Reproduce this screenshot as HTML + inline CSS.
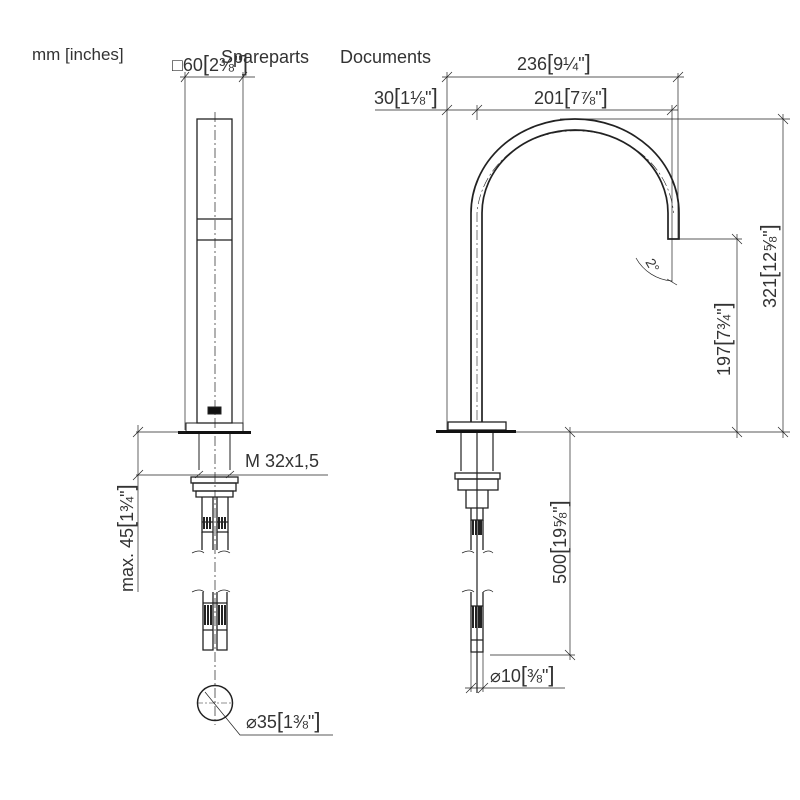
<!DOCTYPE html>
<html><head><meta charset="utf-8"><style>
body{margin:0;background:#fff;width:800px;height:800px;overflow:hidden}
svg{display:block}
text{font-family:"Liberation Sans",sans-serif;fill:#333}
</style></head><body>
<svg width="800" height="800" viewBox="0 0 800 800" xmlns="http://www.w3.org/2000/svg">
<g fill="none" stroke="#222" stroke-width="1">
<!-- LEFT VIEW -->
<line x1="185" y1="72" x2="185" y2="430" stroke-width="0.7"/>
<line x1="243" y1="72" x2="243" y2="430" stroke-width="0.7"/>
<line x1="180" y1="77" x2="255" y2="77" stroke-width="0.7"/>
<line x1="181" y1="82" x2="189" y2="72" stroke-width="0.7"/>
<line x1="239" y1="82" x2="247" y2="72" stroke-width="0.7"/>
<rect x="197" y="119" width="35" height="304" stroke-width="1.3"/>
<line x1="197" y1="219" x2="232" y2="219" stroke-width="1.3"/>
<line x1="197" y1="240" x2="232" y2="240" stroke-width="1.3"/>
<line x1="215" y1="112" x2="215" y2="725" stroke-dasharray="10,3,2,3" stroke-width="0.7"/>
<rect x="208" y="407" width="13" height="7" fill="#111"/>
<rect x="186" y="423" width="57" height="9"/>
<line x1="178" y1="432.5" x2="251" y2="432.5" stroke-width="3" stroke="#111"/>
<line x1="199" y1="434" x2="199" y2="470"/><line x1="230" y1="434" x2="230" y2="470"/>
<line x1="136" y1="432" x2="186" y2="432" stroke-width="0.7"/>
<line x1="136" y1="475" x2="328" y2="475" stroke-width="0.7"/>
<line x1="138" y1="425" x2="138" y2="592" stroke-width="0.7"/>
<line x1="133" y1="437" x2="143" y2="427" stroke-width="0.7"/>
<line x1="133" y1="480" x2="143" y2="470" stroke-width="0.7"/>
<line x1="195" y1="478" x2="203" y2="471" stroke-width="0.7"/>
<line x1="226" y1="478" x2="234" y2="471" stroke-width="0.7"/>
<rect x="191" y="477" width="47" height="6" stroke-width="1.3"/>
<rect x="193" y="483" width="43" height="8" stroke-width="1.3"/>
<path d="M196 491 h37 v6 h-37z" stroke-width="1.3"/>
<path d="M202 497 v35 h11 v-35 M217 497 v35 h11 v-35" stroke-width="1.3"/>
<path d="M202 522 h11 M217 522 h11 M202 532 v18 M213 532 v18 M217 532 v18 M228 532 v18" stroke-width="1.3"/>
<path d="M204 517 v12 M207 517 v12 M210 517 v12 M219 517 v12 M222 517 v12 M225 517 v12" stroke-width="2"/>
<path d="M192 553 q8 -4 12 0 M218 553 q6 -4 12 0" stroke-width="0.7"/>
<path d="M192 592 q8 -4 12 0 M218 592 q6 -4 12 0" stroke-width="0.7"/>
<path d="M203 592 v58 h10 v-58 M217 592 v58 h10 v-58 M203 603 h24 M203 630 h10 M217 630 h10" stroke-width="1.3"/>
<path d="M205 605 v20 M208 605 v20 M211 605 v20 M219 605 v20 M222 605 v20 M225 605 v20" stroke-width="2"/>
<circle cx="215" cy="703" r="17.5" stroke-width="1.5"/>
<line x1="197" y1="703" x2="233" y2="703" stroke-dasharray="6,2,2,2" stroke-width="0.6"/>
<path d="M205 692 L240 735 H333" stroke-width="0.7"/>
<!-- RIGHT VIEW -->
<path d="M471 422 V213 A104 94 0 0 1 679 213 V239 H668 V213 A93 83 0 0 0 482 213 V422" stroke-width="1.7"/>
<path d="M477 420 V213 A98.5 88.5 0 0 1 673.5 213" stroke-dasharray="10,3,2,3" stroke-width="0.6"/>
<rect x="448" y="422" width="58" height="8" stroke-width="1.3"/>
<line x1="436" y1="431.5" x2="516" y2="431.5" stroke-width="3" stroke="#111"/>
<path d="M461 433 v38 M493 433 v38 M477 433 v260" stroke-width="1.2"/>
<rect x="455" y="473" width="45" height="6" stroke-width="1.3"/><rect x="458" y="479" width="40" height="11" stroke-width="1.3"/>
<path d="M466 490 v18 h22 v-18 M471 508 v12 h12 v-12" stroke-width="1.3"/>
<path d="M471 520 v30 M483 520 v30" stroke-width="1.3"/>
<path d="M473 520 v15 M476 520 v15 M479 520 v15 M481 520 v15" stroke-width="2"/>
<path d="M462 553 q8 -4 12 0 M483 553 q6 -4 10 0" stroke-width="0.7"/>
<path d="M462 592 q8 -4 12 0 M483 592 q6 -4 10 0" stroke-width="0.7"/>
<path d="M471 592 v60 h12 v-60 M471 606 h12 M471 640 h12" stroke-width="1.3"/>
<path d="M473 606 v22 M476 606 v22 M479 606 v22 M481 606 v22" stroke-width="2"/>
<!-- right dims -->
<line x1="447" y1="72" x2="447" y2="430" stroke-width="0.7"/>
<line x1="477" y1="105" x2="477" y2="120" stroke-width="0.7"/>
<line x1="678" y1="73" x2="678" y2="239" stroke-width="0.7"/>
<line x1="672" y1="105" x2="672" y2="240" stroke-width="0.7"/>
<line x1="442" y1="77" x2="684" y2="77" stroke-width="0.7"/>
<line x1="375" y1="110" x2="678" y2="110" stroke-width="0.7"/>
<path d="M442 82 l10 -10 M673 82 l10 -10 M442 115 l10 -10 M472 115 l10 -10 M667 115 l10 -10" stroke-width="0.7"/>
<line x1="560" y1="119" x2="790" y2="119" stroke-width="0.7"/>
<line x1="678" y1="239" x2="742" y2="239" stroke-width="0.7"/>
<line x1="516" y1="432" x2="790" y2="432" stroke-width="0.7"/>
<line x1="783" y1="114" x2="783" y2="438" stroke-width="0.7"/>
<line x1="737" y1="234" x2="737" y2="438" stroke-width="0.7"/>
<path d="M778 114 l10 10 M778 427 l10 10 M732 234 l10 10 M732 427 l10 10" stroke-width="0.7"/>
<line x1="672" y1="240" x2="672" y2="282" stroke-width="0.7"/>
<path d="M636 258 A45 45 0 0 0 672 281" stroke-width="0.7"/>
<path d="M667 279 l10 6" stroke-width="0.7"/>
<line x1="570" y1="427" x2="570" y2="660" stroke-width="0.7"/>
<line x1="490" y1="655" x2="575" y2="655" stroke-width="0.7"/>
<path d="M565 427 l10 10 M565 650 l10 10" stroke-width="0.7"/>
<line x1="465" y1="688" x2="565" y2="688" stroke-width="0.7"/>
<line x1="471" y1="652" x2="471" y2="692" stroke-width="0.7"/>
<line x1="483" y1="652" x2="483" y2="692" stroke-width="0.7"/>
<path d="M466 693 l10 -10 M478 693 l10 -10" stroke-width="0.7"/>
</g>
<g font-size="18">
<text x="32" y="60" font-size="17">mm [inches]</text>
<text x="172" y="71">□60<tspan font-size="22">[</tspan>2⅜<tspan font-size="22">"]</tspan></text>
<text x="221" y="63" font-size="18">Spareparts</text>
<text x="340" y="63" font-size="18">Documents</text>
<text x="517" y="70">236<tspan font-size="22">[</tspan>9¼"<tspan font-size="22">]</tspan></text>
<text x="374" y="104">30<tspan font-size="22">[</tspan>1⅛"<tspan font-size="22">]</tspan></text>
<text x="534" y="104">201<tspan font-size="22">[</tspan>7⅞"<tspan font-size="22">]</tspan></text>
<text x="245" y="467">M 32x1,5</text>
<text transform="translate(776,308) rotate(-90)">321<tspan font-size="22">[</tspan>12⅝"<tspan font-size="22">]</tspan></text>
<text transform="translate(730,376) rotate(-90)">197<tspan font-size="22">[</tspan>7¾"<tspan font-size="22">]</tspan></text>
<text transform="translate(566,584) rotate(-90)">500<tspan font-size="22">[</tspan>19⅝"<tspan font-size="22">]</tspan></text>
<text transform="translate(133,592) rotate(-90)">max. 45<tspan font-size="22">[</tspan>1¾"<tspan font-size="22">]</tspan></text>
<text transform="translate(645,262) rotate(60)" font-size="14">2°</text>
<text x="246" y="728">⌀35<tspan font-size="22">[</tspan>1⅜"<tspan font-size="22">]</tspan></text>
<text x="490" y="682">⌀10<tspan font-size="22">[</tspan>⅜"<tspan font-size="22">]</tspan></text>
</g>
</svg>
</body></html>
